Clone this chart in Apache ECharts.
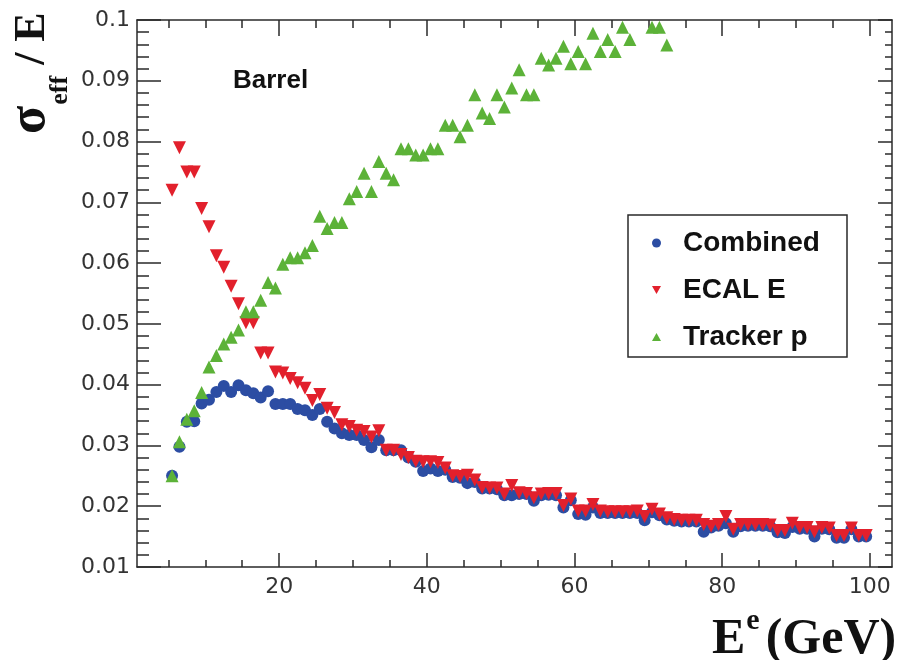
<!DOCTYPE html>
<html>
<head>
<meta charset="utf-8">
<script src="https://cdn.jsdelivr.net/npm/echarts@6/dist/echarts.min.js"></script>
<style>html,body{margin:0;padding:0;background:#fff}#c{width:901px;height:660px}</style>
</head>
<body>
<div id="c"></div>
<script>
// ---- data ----
const energies = [
  5.5, 6.5, 7.5, 8.5, 9.5, 10.5, 11.5, 12.5, 13.5, 14.5,
  15.5, 16.5, 17.5, 18.5, 19.5, 20.5, 21.5, 22.5, 23.5, 24.5,
  25.5, 26.5, 27.5, 28.5, 29.5, 30.5, 31.5, 32.5, 33.5, 34.5,
  35.5, 36.5, 37.5, 38.5, 39.5, 40.5, 41.5, 42.5, 43.5, 44.5,
  45.5, 46.5, 47.5, 48.5, 49.5, 50.5, 51.5, 52.5, 53.5, 54.5,
  55.5, 56.5, 57.5, 58.5, 59.5, 60.5, 61.5, 62.5, 63.5, 64.5,
  65.5, 66.5, 67.5, 68.5, 69.5, 70.5, 71.5, 72.5, 73.5, 74.5,
  75.5, 76.5, 77.5, 78.5, 79.5, 80.5, 81.5, 82.5, 83.5, 84.5,
  85.5, 86.5, 87.5, 88.5, 89.5, 90.5, 91.5, 92.5, 93.5, 94.5,
  95.5, 96.5, 97.5, 98.5, 99.5
];
const combined = [
  0.0250,0.0298,0.0339,0.0340,0.0369,0.0375,0.0388,0.0398,0.0388,0.0399,
  0.0391,0.0386,0.0379,0.0389,0.0368,0.0368,0.0368,0.0360,0.0358,0.0350,
  0.0360,0.0339,0.0328,0.0320,0.0317,0.0317,0.0309,0.0297,0.0309,0.0292,
  0.0292,0.0292,0.0280,0.0273,0.0258,0.0262,0.0258,0.0260,0.0248,0.0247,
  0.0238,0.0240,0.0229,0.0229,0.0228,0.0218,0.0218,0.0220,0.0220,0.0209,
  0.0218,0.0219,0.0218,0.0198,0.0210,0.0187,0.0186,0.0198,0.0189,0.0189,
  0.0189,0.0189,0.0189,0.0189,0.0177,0.0190,0.0185,0.0178,0.0176,0.0175,
  0.0175,0.0175,0.0158,0.0165,0.0168,0.0172,0.0158,0.0167,0.0168,0.0168,
  0.0168,0.0167,0.0157,0.0156,0.0166,0.0163,0.0163,0.0150,0.0163,0.0162,
  0.0148,0.0148,0.0162,0.0150,0.0150
];
const ecalE = [
  0.0720,0.0790,0.0750,0.0750,0.0690,0.0660,0.0612,0.0593,0.0562,0.0533,
  0.0502,0.0502,0.0452,0.0452,0.0421,0.0419,0.0410,0.0403,0.0394,0.0374,
  0.0384,0.0361,0.0354,0.0334,0.0331,0.0325,0.0323,0.0314,0.0324,0.0292,
  0.0292,0.0285,0.0280,0.0274,0.0273,0.0273,0.0272,0.0263,0.0250,0.0249,
  0.0251,0.0243,0.0231,0.0230,0.0230,0.0220,0.0234,0.0222,0.0221,0.0214,
  0.0220,0.0221,0.0221,0.0201,0.0212,0.0192,0.0192,0.0203,0.0192,0.0191,
  0.0191,0.0191,0.0191,0.0192,0.0183,0.0195,0.0187,0.0181,0.0178,0.0177,
  0.0177,0.0177,0.0170,0.0167,0.0170,0.0183,0.0162,0.0170,0.0170,0.0170,
  0.0170,0.0169,0.0160,0.0160,0.0172,0.0165,0.0165,0.0158,0.0165,0.0164,
  0.0152,0.0152,0.0164,0.0152,0.0152
];
// Tracker values above 0.1 fall outside the frame (null)
const trackerP = [
  0.0250,0.0306,0.0343,0.0357,0.0387,0.0429,0.0448,0.0467,0.0478,0.0490,
  0.0520,0.0520,0.0539,0.0568,0.0559,0.0598,0.0609,0.0609,0.0617,0.0629,
  0.0677,0.0657,0.0667,0.0667,0.0706,0.0718,0.0748,0.0718,0.0767,0.0748,
  0.0737,0.0788,0.0788,0.0778,0.0778,0.0788,0.0788,0.0827,0.0827,0.0808,
  0.0827,0.0877,0.0847,0.0838,0.0877,0.0857,0.0888,0.0918,0.0877,0.0877,
  0.0937,0.0926,0.0937,0.0957,0.0928,0.0948,0.0928,0.0978,0.0948,0.0968,
  0.0948,0.0988,0.0968,null,null,0.0988,0.0988,0.0959
];
const seriesNames = ['Combined', 'ECAL E', 'Tracker p'];
const xMajorTicks = [20, 40, 60, 80, 100];
const xMinorTicks = [5, 10, 15, 25, 30, 35, 45, 50, 55, 65, 70, 75, 85, 90, 95];
const yMajorTicks = [0.01, 0.02, 0.03, 0.04, 0.05, 0.06, 0.07, 0.08, 0.09, 0.1];
const yMinorTicks = [
  0.012,0.014,0.016,0.018,0.022,0.024,0.026,0.028,0.032,0.034,0.036,0.038,
  0.042,0.044,0.046,0.048,0.052,0.054,0.056,0.058,0.062,0.064,0.066,0.068,
  0.072,0.074,0.076,0.078,0.082,0.084,0.086,0.088,0.092,0.094,0.096,0.098
];
const X_MIN = 0.75, X_MAX = 103;
const Y_MIN = 0.01, Y_MAX = 0.1;

// ---- chart ----
const AX = '#2a2a2a';
const COLORS = ['#2c4da3', '#e2202c', '#5cb238'];
const pairs = (vals) => energies.slice(0, vals.length)
  .map((e, i) => [e, vals[i]]).filter(p => p[1] !== null);

function xAxisDef(pos, ticks, len, withLabels, withLine) {
  return {
    type: 'value', gridIndex: 0, position: pos, offset: 0,
    min: X_MIN, max: X_MAX,
    axisLine: { show: withLine, onZero: false, lineStyle: { color: AX, width: 1.5 } },
    axisTick: { show: true, inside: true, length: len, customValues: ticks,
                lineStyle: { color: AX, width: 1.5 } },
    axisLabel: { show: withLabels, customValues: ticks, margin: 9,
                 fontFamily: 'DejaVu Sans', fontSize: 22, color: '#333' },
    splitLine: { show: false }, minorTick: { show: false }
  };
}
function yAxisDef(pos, ticks, len, withLabels, withLine) {
  return {
    type: 'value', gridIndex: 0, position: pos, offset: 0,
    min: Y_MIN, max: Y_MAX,
    axisLine: { show: withLine, onZero: false, lineStyle: { color: AX, width: 1.5 } },
    axisTick: { show: true, inside: true, length: len, customValues: ticks,
                lineStyle: { color: AX, width: 1.5 } },
    axisLabel: { show: withLabels, customValues: ticks, margin: 7,
                 fontFamily: 'DejaVu Sans', fontSize: 22, color: '#333',
                 formatter: v => String(+(+v).toFixed(3)) },
    splitLine: { show: false }, minorTick: { show: false }
  };
}

const mctx = document.createElement('canvas').getContext('2d');
function tw(font, s) { mctx.font = font; return mctx.measureText(s).width; }

// x-axis title pieces
const fBig = 'bold 50px "Liberation Serif"';
const fSup = 'bold 30px "Liberation Serif"';
const xTitleLeft = 712;
const eSupLeft = xTitleLeft + tw(fBig, 'E') + 1;
const gevLeft = eSupLeft + tw(fSup, 'e') + 6;

// y-axis title pieces (rotated group, local coordinates along the text)
const fSig = 'bold 52px "Liberation Serif"';
const fSub = 'bold 26px "Liberation Serif"';
const fYE = 'bold 44px "Liberation Serif"';
const subLeft = tw(fSig, 'σ') + 1;
const restLeft = subLeft + tw(fSub, 'eff');

const DOWN_TRI = 'path://M0,0L10,0L5,9Z';
const UP_TRI = 'path://M5,0L10,9L0,9Z';

const option = {
  backgroundColor: '#ffffff',
  animation: false,
  grid: { left: 137, right: 9, top: 20, bottom: 93, containLabel: false, outerBoundsMode: 'none' },
  xAxis: [
    xAxisDef('bottom', xMajorTicks, 14, true, true),
    xAxisDef('top', xMajorTicks, 16, false, true),
    xAxisDef('bottom', xMinorTicks, 7, false, false),
    xAxisDef('top', xMinorTicks, 8, false, false)
  ],
  yAxis: [
    yAxisDef('left', yMajorTicks, 24, true, true),
    yAxisDef('right', yMajorTicks, 14, false, true),
    yAxisDef('left', yMinorTicks, 12, false, false),
    yAxisDef('right', yMinorTicks, 7, false, false)
  ],
  legend: {
    data: [
      { name: seriesNames[0], icon: 'circle' },
      { name: seriesNames[1], icon: DOWN_TRI },
      { name: seriesNames[2], icon: UP_TRI }
    ],
    orient: 'vertical', left: 652, top: 229,
    itemWidth: 9, itemHeight: 9, itemGap: 19, padding: 0,
    selectedMode: false,
    textStyle: { fontFamily: 'Liberation Sans', fontWeight: 'bold', fontSize: 28,
                 color: '#111', lineHeight: 28, padding: [0, 0, 0, 17] }
  },
  series: [
    { name: seriesNames[0], type: 'scatter', xAxisIndex: 0, yAxisIndex: 0,
      symbol: 'circle', symbolSize: 12, itemStyle: { color: COLORS[0], opacity: 1 },
      data: pairs(combined), z: 2 },
    { name: seriesNames[1], type: 'scatter', xAxisIndex: 0, yAxisIndex: 0,
      symbol: 'triangle', symbolRotate: 180, symbolSize: 13,
      itemStyle: { color: COLORS[1], opacity: 1 },
      data: pairs(ecalE), z: 3 },
    { name: seriesNames[2], type: 'scatter', xAxisIndex: 0, yAxisIndex: 0,
      symbol: 'triangle', symbolSize: 13, itemStyle: { color: COLORS[2], opacity: 1 },
      data: pairs(trackerP), z: 4 }
  ],
  graphic: [
    { type: 'rect', shape: { x: 628, y: 215, width: 219, height: 142 },
      style: { fill: 'none', stroke: AX, lineWidth: 1.5 }, z: 1 },
    { type: 'text', x: 233, y: 81,
      style: { text: 'Barrel', font: 'bold 26px "Liberation Sans"', fill: '#111',
               align: 'left', verticalAlign: 'middle' } },
    { type: 'text', x: xTitleLeft, y: 640,
      style: { text: 'E', font: fBig, fill: '#111', align: 'left', verticalAlign: 'middle' } },
    { type: 'text', x: eSupLeft, y: 621,
      style: { text: 'e', font: fSup, fill: '#111', align: 'left', verticalAlign: 'middle' } },
    { type: 'text', x: gevLeft, y: 640,
      style: { text: '(GeV)', font: fBig, fill: '#111', align: 'left', verticalAlign: 'middle' } },
    { type: 'group', x: 48, y: 134, rotation: Math.PI / 2,
      children: [
        { type: 'text', x: 0, y: -17,
          style: { text: 'σ', font: fSig, fill: '#111', align: 'left', verticalAlign: 'middle' } },
        { type: 'text', x: subLeft, y: 12,
          style: { text: 'eff', font: fSub, fill: '#111', align: 'left', verticalAlign: 'middle' } },
        { type: 'text', x: restLeft, y: -15,
          style: { text: ' / E', font: fYE, fill: '#111', align: 'left', verticalAlign: 'middle' } }
      ] }
  ]
};

const chart = echarts.init(document.getElementById('c'), null, { renderer: 'canvas' });
chart.setOption(option);
</script>
</body>
</html>
